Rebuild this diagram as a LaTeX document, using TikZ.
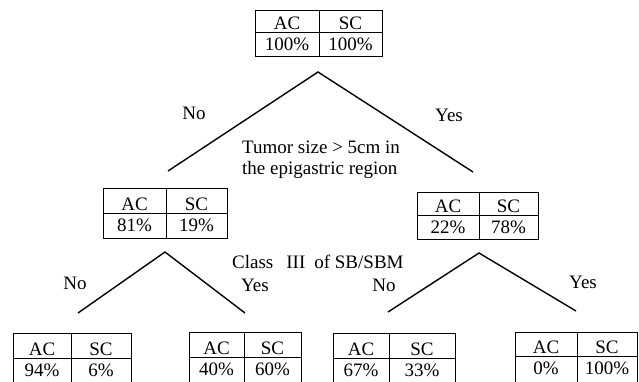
\documentclass[tikz,border=0pt]{standalone}
\usepackage{fontspec}
\setmainfont{Liberation Serif}
\usetikzlibrary{fit}
\tikzset{
  txt/.style={font=\fontsize{19pt}{21pt}\selectfont, inner sep=0pt, anchor=base},
  tframe/.style={draw, line width=0.9pt, inner sep=0pt, outer sep=0pt},
  tline/.style={line width=0.9pt},
  branch/.style={line width=1.4pt},
}
\newcommand{\dtab}[9]{%
  \coordinate (#1-nw) at (#2,#4);
  \coordinate (#1-se) at (#3,#6);
  \node[tframe, fit=(#1-nw)(#1-se)] (#1) {};
  \draw[tline] (#7,#4) -- (#7,#6);
  \draw[tline] (#2,#5) -- (#3,#5);
  \node[txt] (#1-ac) at ({(#2+#7)/2},{#5-3}) {AC};
  \node[txt] (#1-sc) at ({(#7+#3)/2},{#5-3}) {SC};
  \node[txt] (#1-av) at ({(#2+#7)/2},{#5+18}) {#8};
  \node[txt] (#1-sv) at ({(#7+#3)/2},{#5+18}) {#9};
}
\begin{document}
\begin{tikzpicture}[x=1pt,y=-1pt]
\useasboundingbox (0,0) rectangle (639,381);
\clip (0,0) rectangle (639,381);
% tables
\dtab{t0}{255}{382}{10}{32}{56}{319}{100\%}{100\%}
\dtab{t1}{103}{227}{188}{213}{238}{166}{81\%}{19\%}
\dtab{t2}{417}{538}{192}{215}{239}{479}{22\%}{78\%}
\dtab{t3}{13}{131}{333}{358}{384}{71}{94\%}{6\%}
\dtab{t4}{189}{301}{332}{357}{384}{244}{40\%}{60\%}
\dtab{t5}{333}{455}{333}{358}{384}{389}{67\%}{33\%}
\dtab{t6}{515}{637}{332}{356}{384}{577}{0\%}{100\%}
% branch points
\coordinate (a0) at (318,72);
\coordinate (e0l) at (168,171);
\coordinate (e0r) at (473,172);
\coordinate (a1) at (165,252);
\coordinate (e1l) at (78,313);
\coordinate (e1r) at (245,313);
\coordinate (a2) at (479,253);
\coordinate (e2l) at (388,312);
\coordinate (e2r) at (576,311);
\draw[branch] (e0l) -- (a0) -- (e0r);
\draw[branch] (e1l) -- (a1) -- (e1r);
\draw[branch] (e2l) -- (a2) -- (e2r);
% labels
\node[txt] (no0) at (194,119.5) {No};
\node[txt] (yes0) at (449,121.5) {Yes};
\node[txt, anchor=base west] (q0a) at (242,153.3) {Tumor size > 5cm in};
\node[txt, anchor=base west] (q0b) at (242,174.3) {the epigastric region};
\node[txt] (no1) at (75,289) {No};
\node[txt] (yes1) at (255,291.7) {Yes};
\node[txt, anchor=base west] (q1) at (232,268) {Class\hspace{13pt}III\hspace{9pt}of SB/SBM};
\node[txt] (no2) at (384,291.5) {No};
\node[txt] (yes2) at (583,288) {Yes};
\end{tikzpicture}
\end{document}
